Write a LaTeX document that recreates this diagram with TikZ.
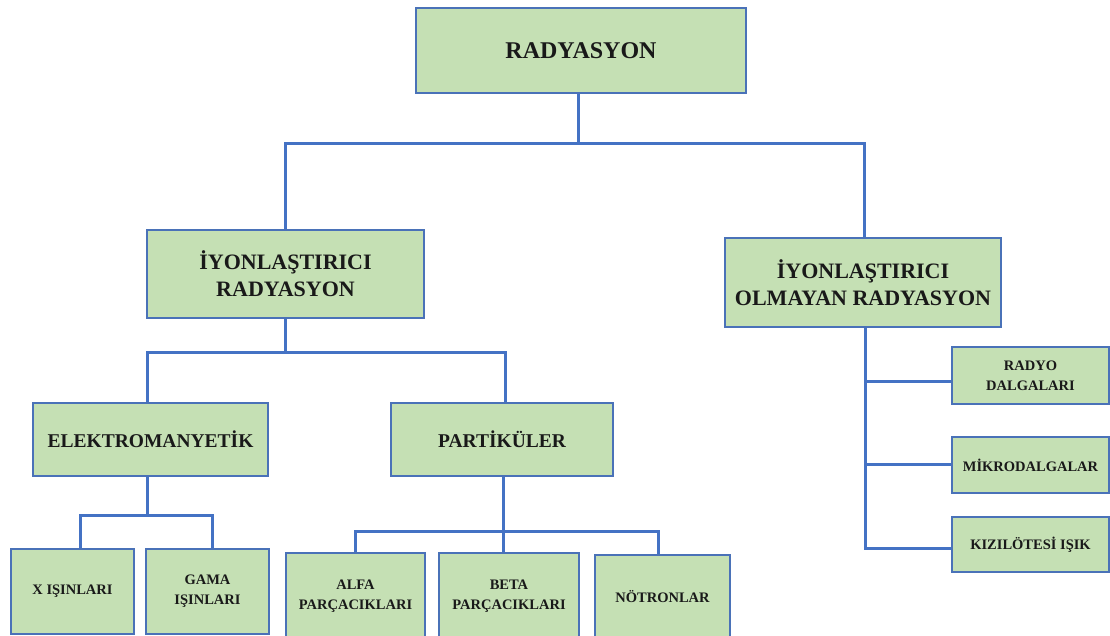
\documentclass[tikz,border=0pt]{standalone}
\usepackage{fontspec}
\setmainfont{Liberation Serif}
\definecolor{boxfill}{HTML}{C5E0B4}
\definecolor{linecol}{HTML}{4472C4}
\definecolor{bordercol}{HTML}{4A72B8}
\begin{document}
\begin{tikzpicture}[x=1pt,y=-1pt,
  box/.style={draw=bordercol, line width=1.2pt, fill=boxfill, inner sep=0pt, align=center, text=black!90, font=\bfseries},
  lvA/.style={box, font=\bfseries\fontsize{24}{29}\selectfont},
  lvB/.style={box, font=\bfseries\fontsize{22}{27}\selectfont},
  lvC/.style={box, font=\bfseries\fontsize{19.5}{24}\selectfont},
  lvD/.style={box, font=\bfseries\fontsize{14.5}{20}\selectfont},
  conn/.style={draw=linecol, line width=3pt}]
\useasboundingbox (0,0) rectangle (1110,636);
\clip (0,0) rectangle (1110,636);
% connector junctions
\coordinate (j1) at (578,144);
\coordinate (j1l) at (285,144);
\coordinate (j1r) at (864,144);
\coordinate (j2) at (285,352);
\coordinate (j2l) at (147,352);
\coordinate (j2r) at (505,352);
\coordinate (j3) at (147,515);
\coordinate (j3l) at (80,515);
\coordinate (j3r) at (212,515);
\coordinate (j4) at (503,531);
\coordinate (j4l) at (355,531);
\coordinate (j4r) at (658,531);
\coordinate (jr1) at (865,381);
\coordinate (jr2) at (865,464);
\coordinate (jr3) at (865,548);
% nodes
\node[lvA, minimum width=330pt, minimum height=85pt] (top) at (581,50.5) {RADYASYON};
\node[lvB, minimum width=277pt, minimum height=88pt] (iyon) at (285.5,274) {İYONLAŞTIRICI\\RADYASYON};
\node[lvB, minimum width=276pt, minimum height=89pt] (noniyon) at (863,282.5) {İYONLAŞTIRICI\\OLMAYAN RADYASYON};
\node[lvC, minimum width=235pt, minimum height=73pt] (em) at (150.5,439.5) {ELEKTROMANYETİK};
\node[lvC, minimum width=222pt, minimum height=73pt] (pa) at (502,439.5) {PARTİKÜLER};
\node[lvD, minimum width=123pt, minimum height=85pt] (x) at (72.5,591.5) {X IŞINLARI};
\node[lvD, minimum width=123pt, minimum height=85pt] (gama) at (207.5,591.5) {GAMA\\IŞINLARI};
\node[lvD, minimum width=139pt, minimum height=86pt] (alfa) at (355.5,596) {ALFA\\PARÇACIKLARI};
\node[lvD, minimum width=140pt, minimum height=86pt] (beta) at (509,596) {BETA\\PARÇACIKLARI};
\node[lvD, minimum width=135pt, minimum height=84pt] (notron) at (662.5,597) {NÖTRONLAR};
\node[lvD, minimum width=157pt, minimum height=57pt] (radyo) at (1030.5,375.5) {RADYO\\DALGALARI};
\node[lvD, minimum width=157pt, minimum height=56pt] (mikro) at (1030.5,465) {MİKRODALGALAR};
\node[lvD, minimum width=157pt, minimum height=55pt] (kizil) at (1030.5,544.5) {KIZILÖTESİ IŞIK};
% connectors
\draw[conn] (top.south -| j1) -- (j1);
\draw[conn] (iyon.north -| j1l) -- (j1l) -- (j1r) -- (noniyon.north -| j1r);
\draw[conn] (iyon.south -| j2) -- (j2);
\draw[conn] (em.north -| j2l) -- (j2l) -- (j2r) -- (pa.north -| j2r);
\draw[conn] (em.south -| j3) -- (j3);
\draw[conn] (x.north -| j3l) -- (j3l) -- (j3r) -- (gama.north -| j3r);
\draw[conn] (pa.south -| j4) -- (beta.north -| j4);
\draw[conn] (alfa.north -| j4l) -- (j4l) -- (j4r) -- (notron.north -| j4r);
\draw[conn] (noniyon.south -| jr1) -- (jr3) -- (kizil.west |- jr3);
\draw[conn] (jr1) -- (radyo.west |- jr1);
\draw[conn] (jr2) -- (mikro.west |- jr2);
\end{tikzpicture}
\end{document}
